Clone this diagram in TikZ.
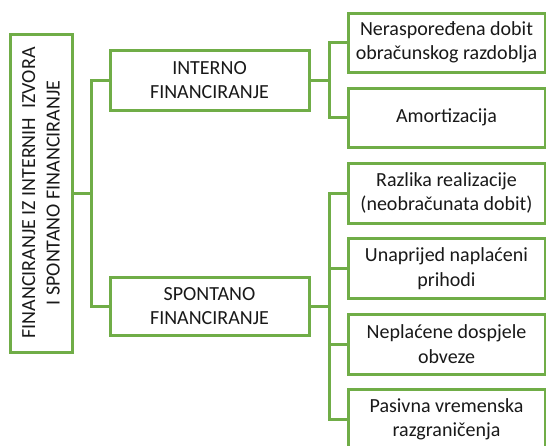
\documentclass[tikz,border=0pt]{standalone}
\usepackage{fontspec}
\setmainfont{Carlito}
\definecolor{grn}{HTML}{70AD47}
\begin{document}
\begin{tikzpicture}[x=1pt,y=-1pt,
  box/.style={draw=grn,line width=3pt,fill=white,inner sep=0pt,align=center,
    font=\fontsize{20}{24.4}\selectfont,text=black!90},
  conn/.style={draw=grn,line width=3pt}]
\useasboundingbox (0,0) rectangle (546,445);
\clip (0,0) rectangle (546,445);
\node[box,minimum width=318pt,minimum height=62pt,rotate=90] (root) at (41,193)
  {FINANCIRANJE IZ INTERNIH\ \ IZVORA\\I SPONTANO FINANCIRANJE};
\node[box,minimum width=199pt,minimum height=60pt] (interno) at (209.5,80) {INTERNO\\FINANCIRANJE};
\node[box,minimum width=199pt,minimum height=58pt] (spontano) at (209.5,306) {SPONTANO\\FINANCIRANJE};
\node[box,minimum width=197pt,minimum height=59pt] (r1) at (446.5,42.5) {Neraspoređena dobit\\obračunskog razdoblja};
\node[box,minimum width=197pt,minimum height=59pt] (r2) at (446.5,117.5) {Amortizacija};
\node[box,minimum width=197pt,minimum height=60pt] (s1) at (446.5,193) {Razlika realizacije\\(neobračunata dobit)};
\node[box,minimum width=197pt,minimum height=60pt] (s2) at (446.5,268.5) {Unaprijed naplaćeni\\prihodi};
\node[box,minimum width=197pt,minimum height=60pt] (s3) at (446.5,344) {Neplaćene dospjele\\obveze};
\node[box,minimum width=197pt,minimum height=60pt] (s4) at (446.5,419.5) {Pasivna vremenska\\razgraničenja};
\coordinate (j1) at (91,193);
\coordinate (j2) at (329,80);
\coordinate (j3) at (329,306);
\draw[conn] (root.south) -- (j1);
\draw[conn] (j1) |- (interno.west);
\draw[conn] (j1) |- (spontano.west);
\draw[conn] (interno.east) -- (j2);
\draw[conn] (j2) |- (r1.west);
\draw[conn] (j2) |- (r2.west);
\draw[conn] (spontano.east) -- (j3);
\draw[conn] (j3) |- (s1.west);
\draw[conn] (j3) |- (s2.west);
\draw[conn] (j3) |- (s3.west);
\draw[conn] (j3) |- (s4.west);
\end{tikzpicture}
\end{document}
